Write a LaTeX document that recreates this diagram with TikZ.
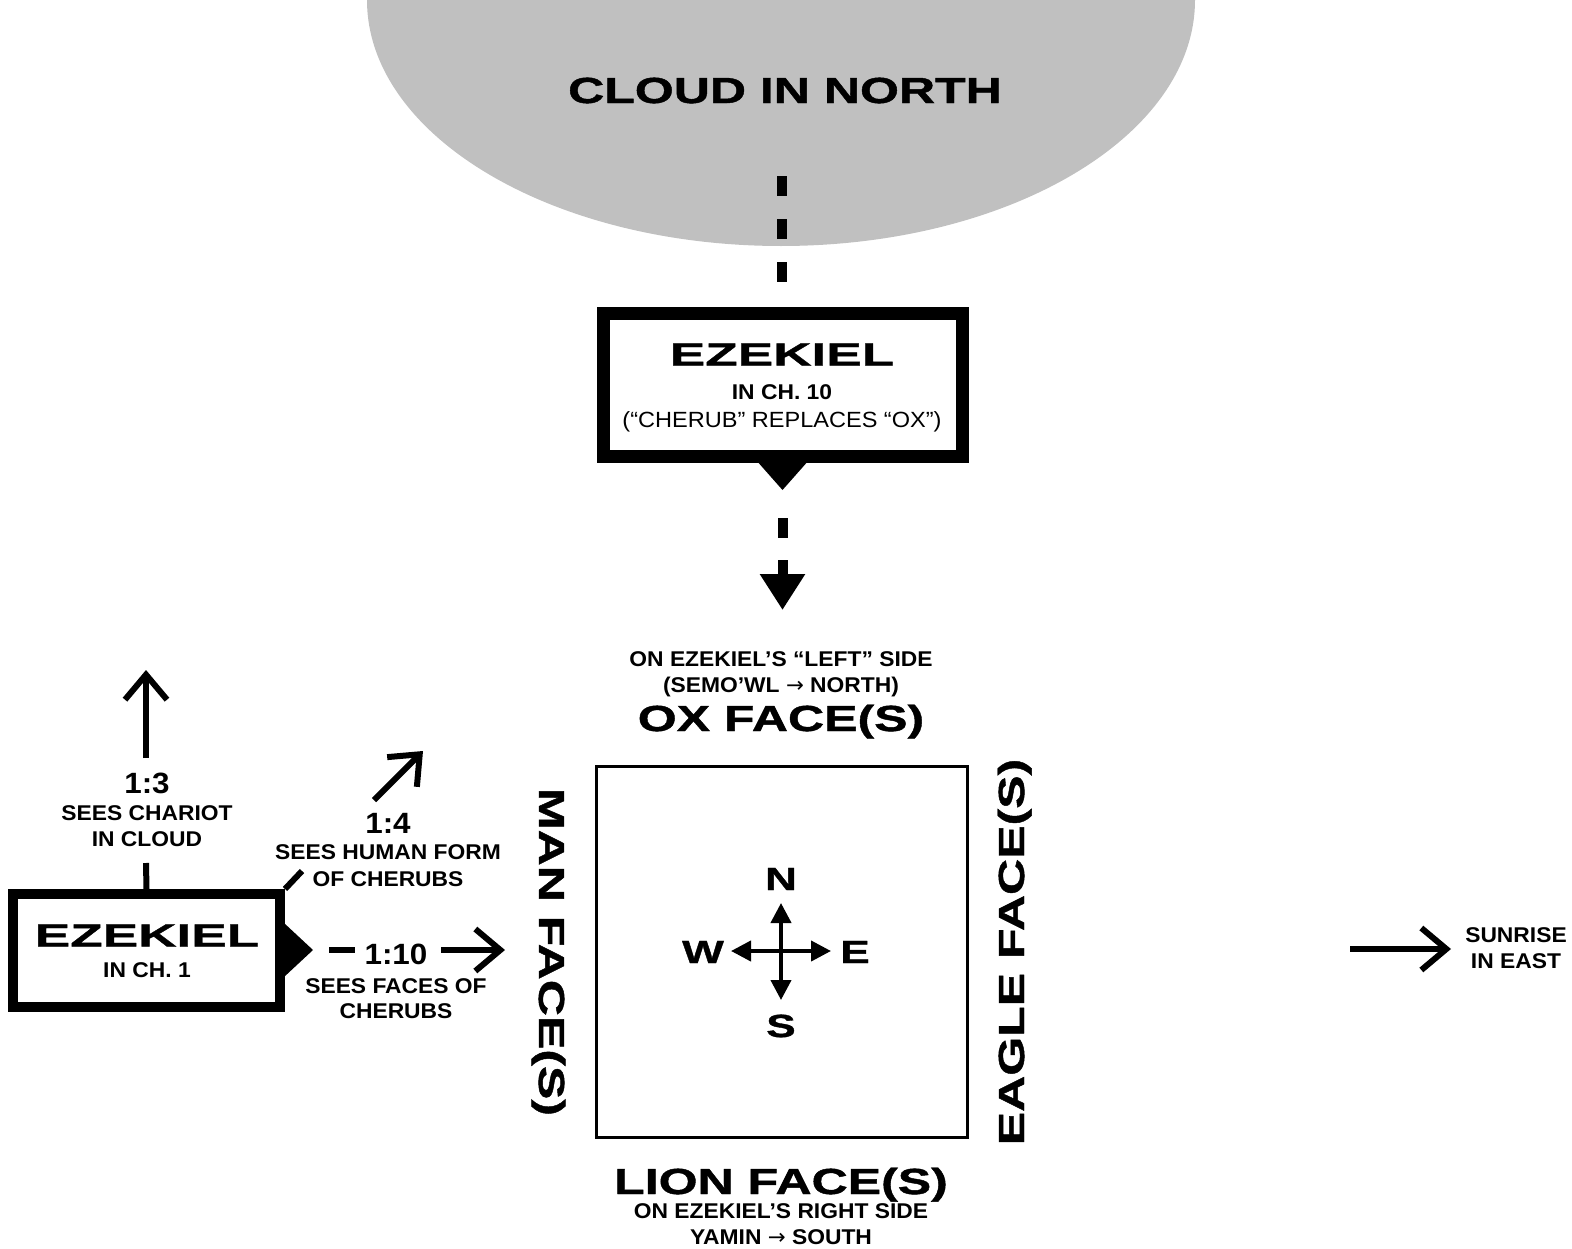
\documentclass[tikz,border=0pt]{standalone}
\usepackage{fontspec}
\setmainfont{Liberation Sans}
\newfontfamily\widefont{Liberation Sans}[FakeStretch=1.38, FakeBold=1.2]
\newfontfamily\ezkfont{Liberation Sans}[FakeStretch=1.66, FakeBold=1.2]
\newfontfamily\smallfont{Liberation Sans}[FakeStretch=1.07]
\newfontfamily\dejavu{DejaVu Sans}
\usetikzlibrary{arrows.meta}
\definecolor{cloudgray}{RGB}{192,192,192}
\tikzset{
  tb/.style={font=\smallfont\fontsize{16}{18}\selectfont\bfseries, anchor=base, inner sep=0pt},
  tr/.style={font=\smallfont\fontsize{16.5}{18}\selectfont, anchor=base, inner sep=0pt},
  num/.style={font=\smallfont\fontsize{22}{24}\selectfont\bfseries, anchor=base, inner sep=0pt},
  big/.style={font=\widefont\fontsize{27.2}{30}\selectfont\bfseries, anchor=base, inner sep=0pt},
  ezk/.style={font=\ezkfont\fontsize{24}{26}\selectfont\bfseries, anchor=base, inner sep=0pt},
  compl/.style={font=\widefont\fontsize{24}{26}\selectfont\bfseries, anchor=base, inner sep=0pt},
  thickbox/.style={draw=black, fill=white, rectangle, inner sep=0pt},
  chev/.style={line width=4.5pt, -{Straight Barb[length=18.75pt, width=31.5pt]}},
  plain/.style={line width=4.5pt},
  comp/.style={line width=3pt, -{Triangle[length=15pt, width=15pt]}},
  dashline/.style={line width=7.5pt, dash pattern=on 15pt off 17.25pt},
}
\newcommand{\rarr}{{\dejavu\mdseries →}}
\begin{document}
\begin{tikzpicture}[x=0.75pt, y=-0.75pt]
\useasboundingbox (0,0) rectangle (1572,1249);
% cloud
\begin{scope}
  \clip (0,0) rectangle (1572,1249);
  \fill[cloudgray] (781,0) ellipse [x radius=414, y radius=246];
\end{scope}
\node[big] (cloudtxt) at (785,103) {CLOUD IN NORTH};
\coordinate (cloudbot) at (782,176);
\coordinate (dashend) at (782,282);

% top Ezekiel box
\node[thickbox, line width=9.75pt, minimum width=269.25pt, minimum height=107.25pt] (ezk10) at (783,385) {};
\draw[dashline] (cloudbot) -- (dashend);
\fill (756,460) -- (782.5,490) -- (809,460) -- cycle;
\node[ezk] (e10a) at (782,365.5) {EZEKIEL};
\node[tb] (e10b) at (782,399.5) {IN CH. 10};
\node[tr] (e10c) at (782,427.5) {(“CHERUB” REPLACES “OX”)};
\coordinate (dstart) at (782.5,518);
\coordinate (dend) at (782.5,610);
\draw[line width=7.5pt, dash pattern=on 15pt off 16.5pt, -{Triangle[length=27pt, width=32.25pt]}] (dstart) -- (dend);

% ox labels
\node[tb] (oxa) at (781,666.5) {ON EZEKIEL’S “LEFT” SIDE};
\node[tb] (oxb) at (781,692.5) {(SEMO’WL \rarr\ NORTH)};
\node[big] (ox) at (781,731) {OX FACE(S)};

% square
\node[draw, line width=2.25pt, minimum size=278.25pt, inner sep=0pt] (sq) at (781.5,951.5) {};
\node[big, rotate=-90] (man) at (539,952) {MAN FACE(S)};
\node[big, rotate=90] (eagle) at (1024,952) {EAGLE FACE(S)};
\node[big] (lion) at (781,1194) {LION FACE(S)};
\node[tb] (liona) at (781,1218.5) {ON EZEKIEL’S RIGHT SIDE};
\node[tb] (lionb) at (781,1244.5) {YAMIN \rarr\ SOUTH};

% compass
\coordinate (cc) at (781,951);
\node[compl] (N) at (781,890) {N};
\node[compl] (S) at (781,1037) {S};
\node[compl] (W) at (703,963) {W};
\node[compl] (E) at (855,963) {E};
\coordinate (nt) at (781,903);
\coordinate (st) at (781,1000);
\coordinate (wt) at (731,951);
\coordinate (et) at (831,951);
\draw[comp] (cc) -- (nt);
\draw[comp] (cc) -- (st);
\draw[comp] (cc) -- (wt);
\draw[comp] (cc) -- (et);

% left Ezekiel box
\node[thickbox, line width=7.5pt, minimum width=200.25pt, minimum height=84.75pt] (ezk1) at (146.5,950.5) {};
\fill (284,923) -- (313,950) -- (284,977) -- cycle;
\node[ezk] (e1a) at (147,946.5) {EZEKIEL};
\node[tb] (e1b) at (147,977.5) {IN CH. 1};

% 1:3
\coordinate (t13) at (146,863);
\draw[plain] (ezk1.north) -- (t13);
\coordinate (a13s) at (146,758);
\coordinate (a13e) at (146,670);
\draw[chev] (a13s) -- (a13e);
\node[num] (n13) at (147,793.5) {1:3};
\node[tb] (s13a) at (147,820.5) {SEES CHARIOT};
\node[tb] (s13b) at (147,846.5) {IN CLOUD};

% 1:4
\coordinate (t14) at (302,871);
\draw[plain] (ezk1.north east) -- (t14);
\coordinate (a14s) at (374,800);
\coordinate (a14e) at (423,751);
\draw[chev] (a14s) -- (a14e);
\node[num] (n14) at (388,833.5) {1:4};
\node[tb] (s14a) at (388,859.5) {SEES HUMAN FORM};
\node[tb] (s14b) at (388,886.5) {OF CHERUBS};

% 1:10
\coordinate (d10s) at (329,950);
\coordinate (d10e) at (355,950);
\draw[plain] (d10s) -- (d10e);
\node[num] (n10) at (396,964.5) {1:10};
\coordinate (a10s) at (441,950);
\coordinate (a10e) at (505,950);
\draw[chev] (a10s) -- (a10e);
\node[tb] (s10a) at (396,993.5) {SEES FACES OF};
\node[tb] (s10b) at (396,1018.5) {CHERUBS};

% sunrise
\coordinate (sus) at (1350,949);
\coordinate (sue) at (1451,949);
\draw[chev] (sus) -- (sue);
\node[tb] (sun1) at (1516,942) {SUNRISE};
\node[tb] (sun2) at (1516,968) {IN EAST};
\end{tikzpicture}
\end{document}
